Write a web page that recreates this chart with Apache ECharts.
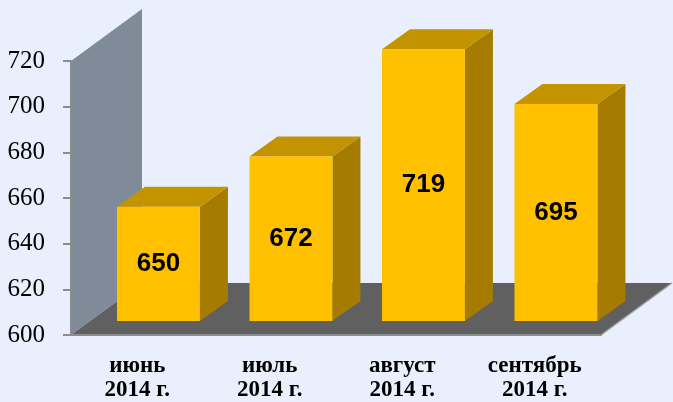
<!DOCTYPE html>
<html>
<head>
<meta charset="utf-8">
<script src="https://cdn.jsdelivr.net/npm/echarts@6/dist/echarts.min.js"></script>
<style>
html, body { margin: 0; padding: 0; background: #E9EFFC; }
#chart { width: 673px; height: 402px; }
</style>
</head>
<body>
<div id="chart"></div>
<script>
// данные
var months = ['июнь\n2014 г.', 'июль\n2014 г.', 'август\n2014 г.', 'сентябрь\n2014 г.'];
var values = [650, 672, 719, 695];
var yMin = 600, yMax = 720, yStep = 20;

var chart = echarts.init(document.getElementById('chart'));

// стенка и пол (3D-подложка)
function renderBack(params, api) {
    var band = api.size([1, 0])[0];
    var pBottom = api.coord([0, yMin]);
    var pTop = api.coord([0, yMax]);
    var left = pBottom[0] - band / 2;
    var right = api.coord([months.length - 1, yMin])[0] + band / 2;
    var yb = pBottom[1], yt = pTop[1];
    var dx = 71, dy = 52;
    return {
        type: 'group',
        children: [
            {
                type: 'polygon',
                shape: { points: [[left, yb], [left, yt], [left + dx, yt - dy], [left + dx, yb - dy]] },
                style: { fill: '#7F8B98' }
            },
            {
                type: 'polygon',
                shape: { points: [[left, yb], [right, yb], [right + dx, yb - dy], [left + dx, yb - dy]] },
                style: { fill: '#606060' }
            },
            {
                type: 'line',
                shape: { x1: right, y1: yb, x2: right + dx, y2: yb - dy },
                style: { stroke: '#A0A0A0', lineWidth: 1.5 }
            }
        ]
    };
}

// столбики
function renderBar(params, api) {
    var idx = api.value(0), val = api.value(1);
    var band = api.size([1, 0])[0];
    var base = api.coord([idx, yMin]);
    var top = api.coord([idx, val]);
    var w = band * 0.626;
    var x0 = base[0] - band / 2 + band * 0.347;
    var x1 = x0 + w;
    var yb = base[1] - 14, yt = top[1] - 14;
    var dx = 28, dy = 20;
    return {
        type: 'group',
        children: [
            {
                type: 'polygon',
                shape: { points: [[x1, yb], [x1, yt], [x1 + dx, yt - dy], [x1 + dx, yb - dy]] },
                style: { fill: '#A67C00' }
            },
            {
                type: 'polygon',
                shape: { points: [[x0, yt], [x1, yt], [x1 + dx, yt - dy], [x0 + dx, yt - dy]] },
                style: { fill: '#C39300' }
            },
            {
                type: 'rect',
                shape: { x: x0, y: yt, width: w, height: yb - yt },
                style: { fill: '#FFC000' }
            },
            {
                type: 'text',
                x: (x0 + x1) / 2,
                y: (yt + yb) / 2,
                style: {
                    text: String(val),
                    fill: '#000',
                    font: 'bold 26px "Liberation Sans", Arial, sans-serif',
                    align: 'center',
                    verticalAlign: 'middle'
                }
            }
        ]
    };
}

var option = {
    backgroundColor: '#E9EFFC',
    animation: false,
    grid: { left: 71, right: 72, top: 61, bottom: 66 },
    xAxis: {
        type: 'category',
        data: months,
        z: 5,
        axisLine: { lineStyle: { color: '#8C8C8C', width: 2 } },
        axisTick: { length: 6, lineStyle: { color: '#8C8C8C', width: 2 } },
        axisLabel: {
            margin: 19,
            color: '#000',
            fontFamily: '"Liberation Serif", "Times New Roman", serif',
            fontWeight: 'bold',
            fontSize: 23,
            lineHeight: 24
        }
    },
    yAxis: {
        type: 'value',
        min: yMin,
        max: yMax,
        interval: yStep,
        z: 5,
        splitLine: { show: false },
        axisLine: { show: true, lineStyle: { color: '#8C8C8C', width: 2 } },
        axisTick: { show: true, length: 8, lineStyle: { color: '#8C8C8C', width: 2 } },
        axisLabel: {
            margin: 26,
            color: '#000',
            fontFamily: '"Liberation Serif", "Times New Roman", serif',
            fontSize: 25
        }
    },
    series: [
        {
            type: 'custom',
            renderItem: renderBack,
            data: [[0, yMin]],
            clip: false,
            z: 1
        },
        {
            type: 'custom',
            renderItem: renderBar,
            data: values.map(function (v, i) { return [i, v]; }),
            clip: false,
            z: 2
        }
    ]
};

chart.setOption(option);
</script>
</body>
</html>
